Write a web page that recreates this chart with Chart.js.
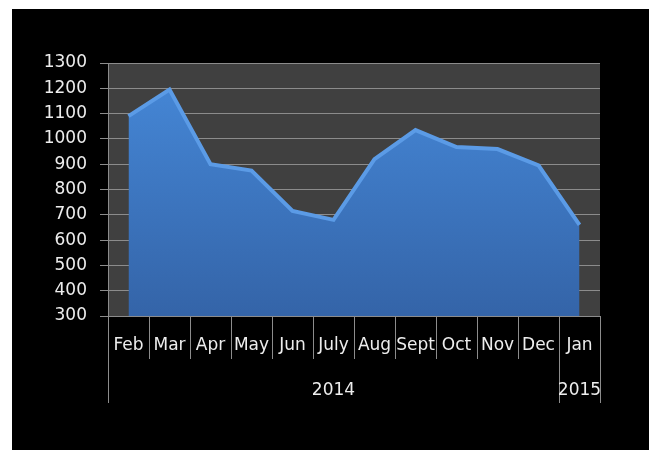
<!DOCTYPE html>
<html>
<head>
<meta charset="utf-8">
<script src="https://cdn.jsdelivr.net/npm/chart.js@4.4.1/dist/chart.umd.min.js"></script>
<style>
  html, body { margin: 0; background: #fff; }
  #wrap { position: absolute; left: 12px; top: 9px; width: 637px; height: 441px; background: #000; }
</style>
</head>
<body>
<div id="wrap"><canvas id="chart"></canvas></div>
<script>
// months on the first axis level, years on the second
const months = ["Feb", "Mar", "Apr", "May", "Jun", "July", "Aug", "Sept", "Oct", "Nov", "Dec", "Jan"];
const years = ["", "", "", "", "", "2014", "", "", "", "", "", "2015"];
const values = [1090, 1195, 900, 875, 715, 680, 920, 1035, 968, 960, 895, 660];
const yMin = 300;
const yMax = 1300;
const yStep = 100;

const lineCol = "#8c8c8c";
const textCol = "#ededed";
const font = { family: "DejaVu Sans", size: 17 };

// dark grey plot area
const plotBg = {
  id: "plotBg",
  beforeDraw(chart) {
    const { ctx, chartArea: a } = chart;
    ctx.save();
    ctx.fillStyle = "#404040";
    ctx.fillRect(a.left, a.top, a.right - a.left, a.bottom - a.top);
    ctx.restore();
  }
};

const chart = new Chart(document.getElementById("chart"), {
  type: "line",
  data: {
    labels: months,
    datasets: [{
      data: values,
      fill: "start",
      tension: 0,
      pointRadius: 0,
      borderWidth: 4,
      borderColor: "#5b9be6",
      backgroundColor(c) {
        const a = c.chart.chartArea;
        if (!a) return "#3d7cc9";
        const g = c.chart.ctx.createLinearGradient(0, a.top, 0, a.bottom);
        g.addColorStop(0, "#4689d9");
        g.addColorStop(1, "#3464a8");
        return g;
      }
    }]
  },
  options: {
    responsive: true,
    maintainAspectRatio: false,
    animation: false,
    layout: { padding: { top: 54, right: 49, bottom: 47, left: 0 } },
    plugins: { legend: { display: false }, tooltip: { enabled: false } },
    scales: {
      x: {
        type: "category",
        position: "bottom",
        offset: true,
        grid: { offset: true, drawOnChartArea: false, color: lineCol, tickLength: 43 },
        border: { color: lineCol },
        ticks: { color: textCol, font, padding: -24, maxRotation: 0, autoSkip: false },
        afterFit(s) { s.height = 43; }
      },
      x2: {
        type: "category",
        position: "bottom",
        labels: years,
        offset: true,
        grid: {
          offset: true,
          drawOnChartArea: false,
          tickLength: 44,
          color: c => (c.type === "scale" || c.index === 0 || c.index === 11) ? lineCol : "rgba(0,0,0,0)"
        },
        border: { display: false },
        ticks: { color: textCol, font, padding: -23, maxRotation: 0, autoSkip: false },
        afterFit(s) { s.height = 44; }
      },
      y: {
        min: yMin,
        max: yMax,
        ticks: { stepSize: yStep, color: textCol, font, padding: 13, callback: v => String(v) },
        grid: { color: lineCol, tickLength: 8 },
        border: { color: lineCol },
        afterFit(s) { s.width = 96; }
      }
    }
  },
  plugins: [plotBg]
});
</script>
</body>
</html>
